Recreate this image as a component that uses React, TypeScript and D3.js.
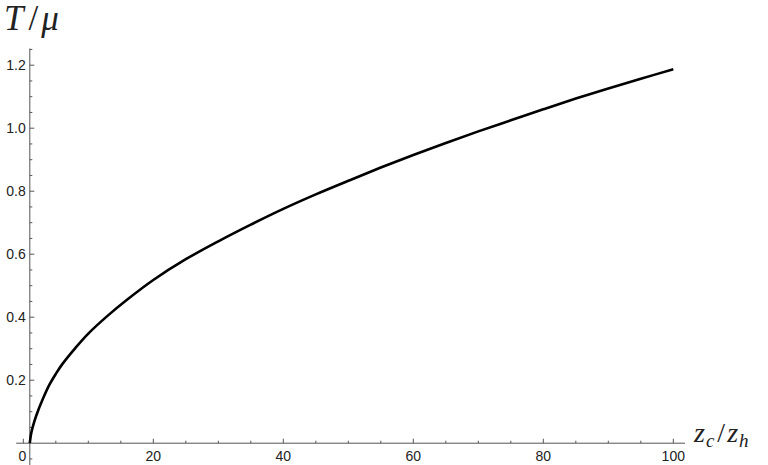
import React, { useEffect, useRef } from "react";
import * as d3 from "d3";

// curve (z_c/z_h vs T/mu)
const zRatio = [1, 1.2, 1.5, 2, 3, 4, 5, 6, 8, 10, 13, 16, 20, 25, 30, 35, 40, 45, 50, 55, 60, 65, 70, 75, 80, 85, 90, 95, 100];
const tOverMu = [0, 0.03, 0.055, 0.088, 0.14, 0.185, 0.22, 0.251, 0.302, 0.348, 0.405, 0.456, 0.518, 0.584, 0.641, 0.694, 0.744, 0.79, 0.833, 0.875, 0.915, 0.953, 0.99, 1.025, 1.06, 1.094, 1.126, 1.157, 1.187];

const xMajor = [0, 20, 40, 60, 80, 100];
const xMinor = d3.range(5, 101, 5).filter(v => v % 20 !== 0);
const yMajor = [0.2, 0.4, 0.6, 0.8, 1.0, 1.2];
const yMinor = d3.range(-1, 26).map(i => i * 0.05).filter(v => Math.abs(v * 5 - Math.round(v * 5)) > 1e-6);

const width = 768;
const height = 465;

const App = () => {
  const ref = useRef<SVGSVGElement>(null);

  useEffect(() => {
    const svg = d3.select(ref.current);
    svg.selectAll("*").remove();

    const x = d3.scaleLinear().domain([0, 100]).range([23.3, 673.3]);
    const y = d3.scaleLinear().domain([0, 1.2]).range([443.2, 65.2]);

    const axisColor = "#555";
    const labelColor = "#222";
    const sans = "'Liberation Sans', Arial, sans-serif";
    const x0 = x(1);
    const y0 = y(0);

    // axes lines
    svg.append("line")
      .attr("x1", x(-1.1)).attr("x2", x(101.8))
      .attr("y1", y0).attr("y2", y0)
      .attr("stroke", axisColor).attr("stroke-width", 1);
    svg.append("line")
      .attr("x1", x0).attr("x2", x0)
      .attr("y1", y(1.253)).attr("y2", height)
      .attr("stroke", axisColor).attr("stroke-width", 1);

    // x ticks
    svg.append("g").selectAll("line").data(xMajor).join("line")
      .attr("x1", d => x(d)).attr("x2", d => x(d))
      .attr("y1", y0).attr("y2", y0 - 4.5)
      .attr("stroke", axisColor);
    svg.append("g").selectAll("line").data(xMinor).join("line")
      .attr("x1", d => x(d)).attr("x2", d => x(d))
      .attr("y1", y0).attr("y2", y0 - 2.5)
      .attr("stroke", axisColor);
    svg.append("g").selectAll("text").data(xMajor).join("text")
      .attr("x", d => x(d) - (d === 0 ? 1 : 0)).attr("y", y0 + 17.5)
      .attr("text-anchor", "middle")
      .attr("font-family", sans)
      .attr("font-size", 14)
      .attr("fill", labelColor)
      .text(d => d3.format("d")(d));

    // y ticks
    svg.append("g").selectAll("line").data(yMajor).join("line")
      .attr("x1", x0).attr("x2", x0 + 4.5)
      .attr("y1", d => y(d)).attr("y2", d => y(d))
      .attr("stroke", axisColor);
    svg.append("g").selectAll("line").data(yMinor).join("line")
      .attr("x1", x0).attr("x2", x0 + 2.5)
      .attr("y1", d => y(d)).attr("y2", d => y(d))
      .attr("stroke", axisColor);
    svg.append("g").selectAll("text").data(yMajor).join("text")
      .attr("x", x0 - 4).attr("y", d => y(d) + 5)
      .attr("text-anchor", "end")
      .attr("font-family", sans)
      .attr("font-size", 14)
      .attr("fill", labelColor)
      .text(d => d3.format(".1f")(d));

    // curve
    const line = d3.line<number>()
      .x((d, i) => x(zRatio[i]))
      .y(d => y(d))
      .curve(d3.curveCatmullRom.alpha(0.5));
    svg.append("path")
      .datum(tOverMu)
      .attr("fill", "none")
      .attr("stroke", "#000")
      .attr("stroke-width", 2.6)
      .attr("d", line);

    // axis titles
    const serif = "'Liberation Serif', 'Times New Roman', serif";
    const ty = svg.append("text")
      .attr("x", 4).attr("y", 30)
      .attr("font-family", serif).attr("font-size", 35).attr("fill", "#222");
    ty.append("tspan").attr("font-style", "italic").text("T");
    ty.append("tspan").attr("dx", 5).text("/");
    ty.append("tspan").attr("dx", 3).attr("font-style", "italic").text("μ");

    const tx = svg.append("text")
      .attr("x", 694).attr("y", 442)
      .attr("font-family", serif).attr("font-size", 28).attr("fill", "#222");
    tx.append("tspan").attr("font-style", "italic").text("z");
    tx.append("tspan").attr("font-style", "italic").attr("font-size", 19).attr("dy", 5).attr("dx", 1).text("c");
    tx.append("tspan").attr("dy", -5).attr("dx", 3).text("/");
    tx.append("tspan").attr("font-style", "italic").attr("dx", 2).text("z");
    tx.append("tspan").attr("font-style", "italic").attr("font-size", 19).attr("dy", 5).attr("dx", 1).text("h");
  }, []);

  return (
    <svg
      ref={ref}
      width={width}
      height={height}
      style={{ position: "absolute", left: 0, top: 0, background: "#fff" }}
    ></svg>
  );
};

export default App;
